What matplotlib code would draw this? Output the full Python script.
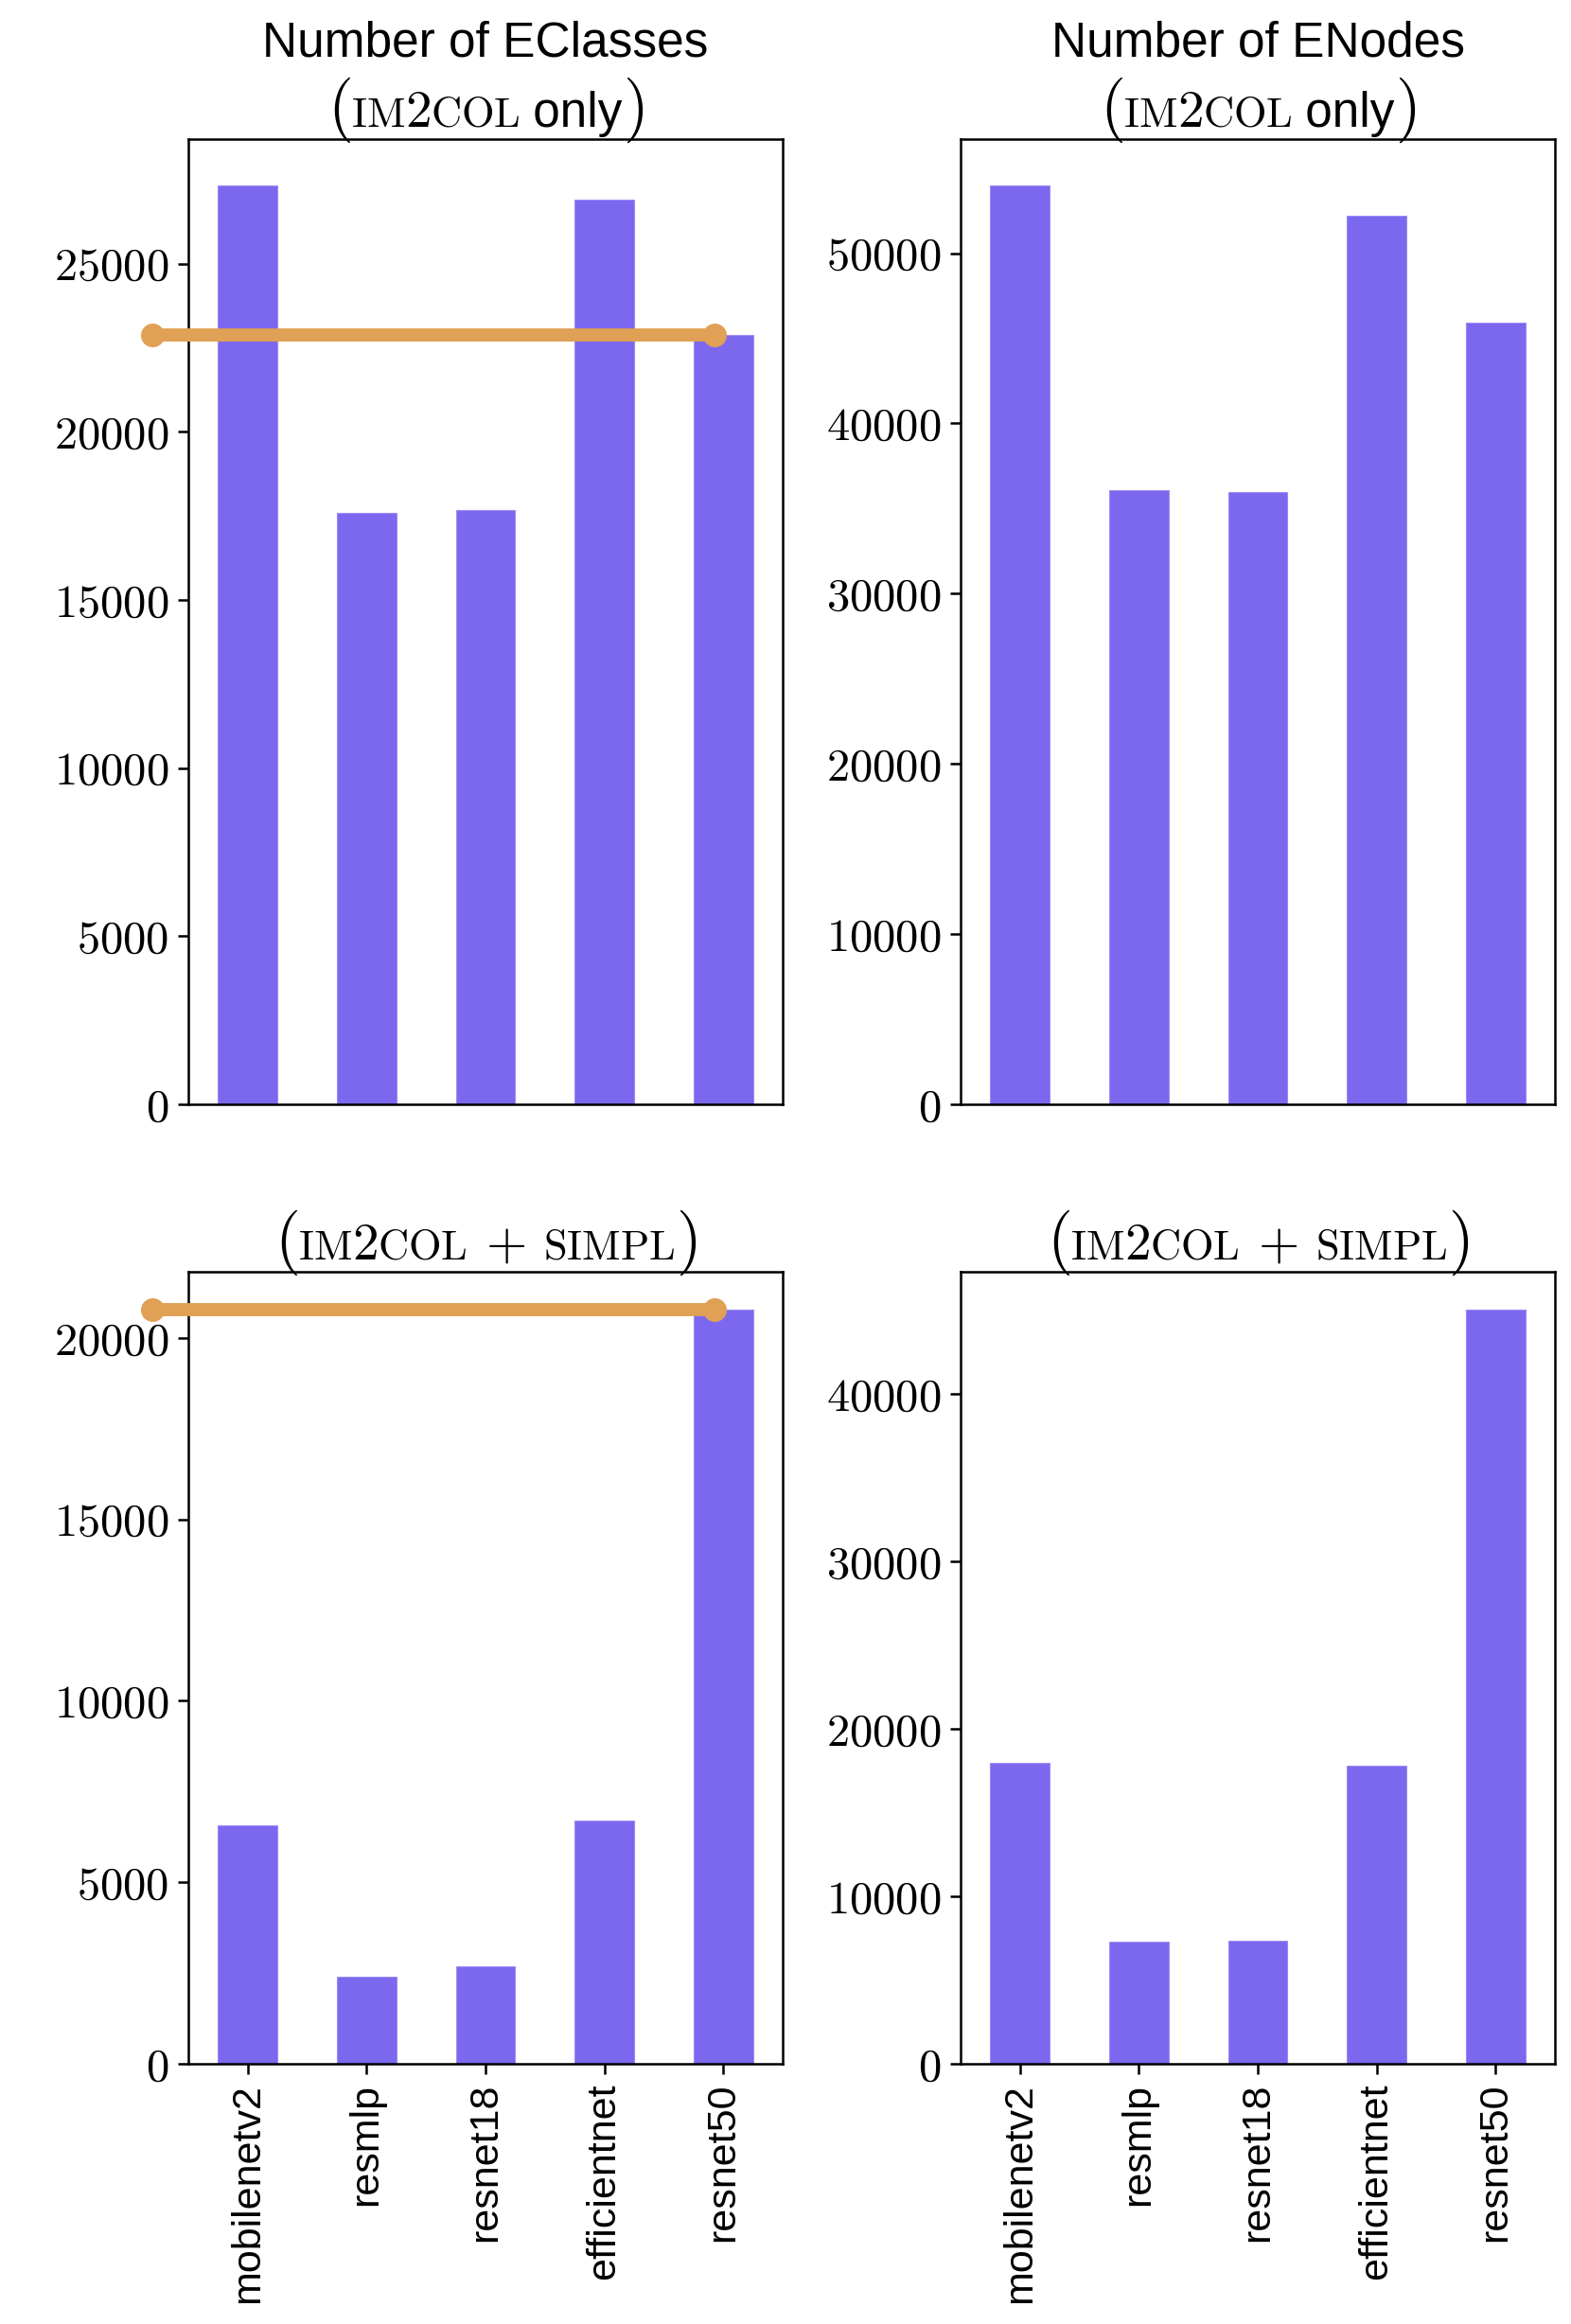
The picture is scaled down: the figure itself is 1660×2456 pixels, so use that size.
import numpy as np
import matplotlib
matplotlib.use("Agg")
import matplotlib.pyplot as plt
from matplotlib.ticker import FuncFormatter
from matplotlib.transforms import ScaledTranslation
from matplotlib.offsetbox import TextArea, HPacker, VPacker, AnchoredOffsetbox, DrawingArea

# ── data ──────────────────────────────────────────
models = ["mobilenetv2", "resmlp", "resnet18", "efficientnet", "resnet50"]
eclasses_im2col = [27340, 17590, 17680, 26900, 22880]
enodes_im2col = [54000, 36060, 35980, 52180, 45900]
eclasses_simpl = [6570, 2410, 2690, 6690, 20780]
enodes_simpl = [18000, 7270, 7360, 17830, 45060]

BAR_COLOR = "#7B68EE"
MARK_COLOR = "#E0A055"

plt.rcParams["mathtext.fontset"] = "cm"
plt.rcParams["font.family"] = ["Liberation Sans", "DejaVu Sans"]

SANS = 18.5
RM = 20
SC = RM * 0.8


def sans(t):
    return TextArea(t, textprops=dict(fontsize=SANS, family=["Liberation Sans", "DejaVu Sans"]))


def rm(t, size=RM):
    return TextArea(t, textprops=dict(fontsize=size))


def gap(w):
    return DrawingArea(w, 0)


def line2(with_simpl):
    parts = [rm(r"$($", RM * 1.25), rm(r"$\mathrm{IM}$", SC), rm(r"$\mathrm{2}$"),
             rm(r"$\mathrm{COL}$", SC)]
    if with_simpl:
        parts += [gap(7), rm(r"$+$"), gap(7), rm(r"$\mathrm{SIMPL}$", SC)]
    else:
        parts += [sans(" only")]
    parts += [rm(r"$)$", RM * 1.25)]
    return HPacker(children=parts, align="baseline", pad=0, sep=0)


def add_title(ax, first_line=None, with_simpl=False):
    rows = []
    if first_line:
        rows.append(HPacker(children=[sans(first_line)], align="baseline", pad=0, sep=0))
    rows.append(line2(with_simpl))
    box = VPacker(children=rows, align="center", pad=0, sep=3)
    shift = ScaledTranslation(0, -0.03, ax.figure.dpi_scale_trans)
    anchored = AnchoredOffsetbox(loc="lower center", child=box, pad=0, borderpad=0,
                                 frameon=False, bbox_to_anchor=(0.5, 1.0),
                                 bbox_transform=ax.transAxes + shift)
    ax.add_artist(anchored)


fig = plt.figure(figsize=(8.3, 12.28), dpi=200)
W, H = 1660, 2456
lefts = [199 / W, 1015 / W]
width = 628 / W
top_row = (1 - 1167 / H, (1167 - 147) / H)
bot_row = (1 - 2181 / H, (2181 - 1344) / H)

axes = [[fig.add_axes([l, r[0], width, r[1]]) for l in lefts] for r in (top_row, bot_row)]

panels = [
    (axes[0][0], eclasses_im2col, "Number of EClasses", False),
    (axes[0][1], enodes_im2col, "Number of ENodes", False),
    (axes[1][0], eclasses_simpl, None, True),
    (axes[1][1], enodes_simpl, None, True),
]

x = np.arange(len(models))
fmt = FuncFormatter(lambda v, p: f"${v:.0f}$")

for i, (ax, vals, ttl, simpl) in enumerate(panels):
    ax.bar(x, vals, width=0.5, color=BAR_COLOR, edgecolor="#9C8CF5", linewidth=0.4)
    ax.set_xlim(-0.5, len(models) - 0.5)
    ax.set_ylim(0, max(vals) * 1.05)
    ax.yaxis.set_major_formatter(fmt)
    ax.tick_params(axis="y", labelsize=17.5, length=4, width=0.9)
    for s in ax.spines.values():
        s.set_linewidth(0.9)
    if i < 2:
        ax.set_xticks([])
    else:
        ax.set_xticks(x)
        ax.set_xticklabels(models, rotation=90, fontsize=15.5)
        ax.tick_params(axis="x", length=4, width=0.9)
    add_title(ax, ttl, simpl)

# hand-drawn marker lines at the resnet50 level
for ax, vals in ((axes[0][0], eclasses_im2col), (axes[1][0], eclasses_simpl)):
    y = vals[-1]
    ax.plot([-0.8, 3.93], [y, y], color=MARK_COLOR, lw=5, solid_capstyle="round",
            marker="o", markersize=8, clip_on=False, zorder=5)

fig.savefig("out.png", dpi=200)
